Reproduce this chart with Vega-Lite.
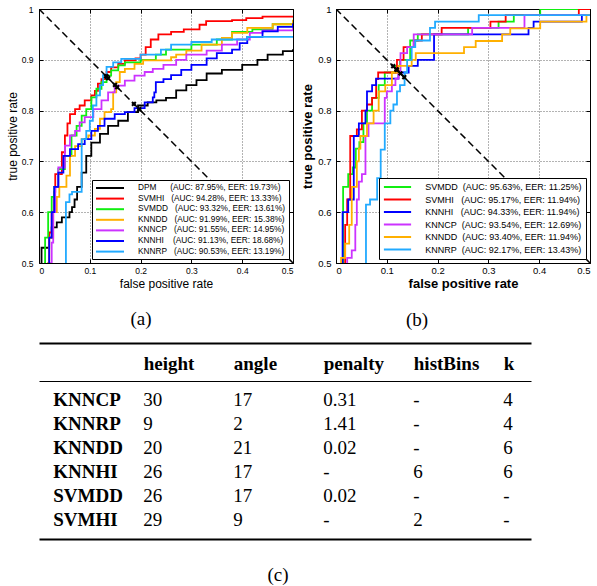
{
"$schema": "https://vega.github.io/schema/vega-lite/v6.json",
"padding": {"left": 5, "top": 3, "right": 0, "bottom": 0},
"background": "white",
"config": {
  "view": {"stroke": "black", "strokeWidth": 1},
  "font": "Liberation Sans",
  "axis": {"labelColor": "black", "titleColor": "black"},
  "title": {"font": "Liberation Serif", "fontSize": 19, "fontWeight": "normal", "color": "black"}
},
"datasets": {
"rocA": [
{"method":"DPM","fpr":0.005,"tpr":0.5},{"method":"DPM","fpr":0.005,"tpr":0.53},{"method":"DPM","fpr":0.02,"tpr":0.55},{"method":"DPM","fpr":0.025,"tpr":0.57},{"method":"DPM","fpr":0.035,"tpr":0.58},{"method":"DPM","fpr":0.045,"tpr":0.59},{"method":"DPM","fpr":0.06,"tpr":0.6},{"method":"DPM","fpr":0.065,"tpr":0.61},{"method":"DPM","fpr":0.07,"tpr":0.625},{"method":"DPM","fpr":0.075,"tpr":0.65},{"method":"DPM","fpr":0.084,"tpr":0.678},{"method":"DPM","fpr":0.093,"tpr":0.711},{"method":"DPM","fpr":0.103,"tpr":0.737},{"method":"DPM","fpr":0.12,"tpr":0.754},{"method":"DPM","fpr":0.136,"tpr":0.77},{"method":"DPM","fpr":0.156,"tpr":0.78},{"method":"DPM","fpr":0.175,"tpr":0.797},{"method":"DPM","fpr":0.195,"tpr":0.81},{"method":"DPM","fpr":0.214,"tpr":0.816},{"method":"DPM","fpr":0.231,"tpr":0.82},{"method":"DPM","fpr":0.25,"tpr":0.825},{"method":"DPM","fpr":0.27,"tpr":0.84},{"method":"DPM","fpr":0.29,"tpr":0.85},{"method":"DPM","fpr":0.31,"tpr":0.86},{"method":"DPM","fpr":0.33,"tpr":0.873},{"method":"DPM","fpr":0.36,"tpr":0.88},{"method":"DPM","fpr":0.4,"tpr":0.89},{"method":"DPM","fpr":0.43,"tpr":0.9},{"method":"DPM","fpr":0.45,"tpr":0.91},{"method":"DPM","fpr":0.48,"tpr":0.917},{"method":"DPM","fpr":0.5,"tpr":0.921},
{"method":"SVMHI","fpr":0.017,"tpr":0.5},{"method":"SVMHI","fpr":0.02,"tpr":0.56},{"method":"SVMHI","fpr":0.025,"tpr":0.6},{"method":"SVMHI","fpr":0.03,"tpr":0.64},{"method":"SVMHI","fpr":0.032,"tpr":0.675},{"method":"SVMHI","fpr":0.045,"tpr":0.718},{"method":"SVMHI","fpr":0.051,"tpr":0.751},{"method":"SVMHI","fpr":0.056,"tpr":0.775},{"method":"SVMHI","fpr":0.061,"tpr":0.793},{"method":"SVMHI","fpr":0.071,"tpr":0.803},{"method":"SVMHI","fpr":0.08,"tpr":0.81},{"method":"SVMHI","fpr":0.09,"tpr":0.82},{"method":"SVMHI","fpr":0.103,"tpr":0.83},{"method":"SVMHI","fpr":0.11,"tpr":0.839},{"method":"SVMHI","fpr":0.116,"tpr":0.853},{"method":"SVMHI","fpr":0.123,"tpr":0.862},{"method":"SVMHI","fpr":0.133,"tpr":0.876},{"method":"SVMHI","fpr":0.142,"tpr":0.885},{"method":"SVMHI","fpr":0.156,"tpr":0.892},{"method":"SVMHI","fpr":0.169,"tpr":0.899},{"method":"SVMHI","fpr":0.19,"tpr":0.903},{"method":"SVMHI","fpr":0.2,"tpr":0.91},{"method":"SVMHI","fpr":0.21,"tpr":0.925},{"method":"SVMHI","fpr":0.22,"tpr":0.94},{"method":"SVMHI","fpr":0.235,"tpr":0.95},{"method":"SVMHI","fpr":0.26,"tpr":0.955},{"method":"SVMHI","fpr":0.285,"tpr":0.96},{"method":"SVMHI","fpr":0.316,"tpr":0.969},{"method":"SVMHI","fpr":0.329,"tpr":0.976},{"method":"SVMHI","fpr":0.38,"tpr":0.978},{"method":"SVMHI","fpr":0.408,"tpr":0.982},{"method":"SVMHI","fpr":0.44,"tpr":0.985},{"method":"SVMHI","fpr":0.5,"tpr":0.986},
{"method":"SVMDD","fpr":0.01,"tpr":0.5},{"method":"SVMDD","fpr":0.012,"tpr":0.55},{"method":"SVMDD","fpr":0.018,"tpr":0.6},{"method":"SVMDD","fpr":0.025,"tpr":0.63},{"method":"SVMDD","fpr":0.03,"tpr":0.65},{"method":"SVMDD","fpr":0.038,"tpr":0.685},{"method":"SVMDD","fpr":0.051,"tpr":0.711},{"method":"SVMDD","fpr":0.064,"tpr":0.751},{"method":"SVMDD","fpr":0.074,"tpr":0.77},{"method":"SVMDD","fpr":0.084,"tpr":0.79},{"method":"SVMDD","fpr":0.093,"tpr":0.803},{"method":"SVMDD","fpr":0.103,"tpr":0.826},{"method":"SVMDD","fpr":0.113,"tpr":0.843},{"method":"SVMDD","fpr":0.123,"tpr":0.856},{"method":"SVMDD","fpr":0.133,"tpr":0.869},{"method":"SVMDD","fpr":0.142,"tpr":0.879},{"method":"SVMDD","fpr":0.156,"tpr":0.889},{"method":"SVMDD","fpr":0.169,"tpr":0.895},{"method":"SVMDD","fpr":0.2,"tpr":0.9},{"method":"SVMDD","fpr":0.23,"tpr":0.91},{"method":"SVMDD","fpr":0.25,"tpr":0.92},{"method":"SVMDD","fpr":0.3,"tpr":0.93},{"method":"SVMDD","fpr":0.35,"tpr":0.94},{"method":"SVMDD","fpr":0.38,"tpr":0.955},{"method":"SVMDD","fpr":0.42,"tpr":0.96},{"method":"SVMDD","fpr":0.46,"tpr":0.97},{"method":"SVMDD","fpr":0.5,"tpr":0.978},
{"method":"KNNDD","fpr":0.017,"tpr":0.5},{"method":"KNNDD","fpr":0.02,"tpr":0.55},{"method":"KNNDD","fpr":0.028,"tpr":0.6},{"method":"KNNDD","fpr":0.035,"tpr":0.63},{"method":"KNNDD","fpr":0.04,"tpr":0.65},{"method":"KNNDD","fpr":0.054,"tpr":0.672},{"method":"KNNDD","fpr":0.061,"tpr":0.711},{"method":"KNNDD","fpr":0.071,"tpr":0.73},{"method":"KNNDD","fpr":0.084,"tpr":0.744},{"method":"KNNDD","fpr":0.097,"tpr":0.751},{"method":"KNNDD","fpr":0.11,"tpr":0.764},{"method":"KNNDD","fpr":0.12,"tpr":0.784},{"method":"KNNDD","fpr":0.129,"tpr":0.797},{"method":"KNNDD","fpr":0.142,"tpr":0.803},{"method":"KNNDD","fpr":0.146,"tpr":0.836},{"method":"KNNDD","fpr":0.152,"tpr":0.856},{"method":"KNNDD","fpr":0.159,"tpr":0.876},{"method":"KNNDD","fpr":0.169,"tpr":0.882},{"method":"KNNDD","fpr":0.188,"tpr":0.892},{"method":"KNNDD","fpr":0.205,"tpr":0.899},{"method":"KNNDD","fpr":0.26,"tpr":0.905},{"method":"KNNDD","fpr":0.27,"tpr":0.91},{"method":"KNNDD","fpr":0.29,"tpr":0.918},{"method":"KNNDD","fpr":0.32,"tpr":0.93},{"method":"KNNDD","fpr":0.36,"tpr":0.943},{"method":"KNNDD","fpr":0.38,"tpr":0.953},{"method":"KNNDD","fpr":0.41,"tpr":0.963},{"method":"KNNDD","fpr":0.46,"tpr":0.97},{"method":"KNNDD","fpr":0.5,"tpr":0.979},
{"method":"KNNCP","fpr":0.022,"tpr":0.5},{"method":"KNNCP","fpr":0.025,"tpr":0.54},{"method":"KNNCP","fpr":0.028,"tpr":0.6},{"method":"KNNCP","fpr":0.032,"tpr":0.65},{"method":"KNNCP","fpr":0.038,"tpr":0.688},{"method":"KNNCP","fpr":0.051,"tpr":0.731},{"method":"KNNCP","fpr":0.061,"tpr":0.751},{"method":"KNNCP","fpr":0.071,"tpr":0.76},{"method":"KNNCP","fpr":0.08,"tpr":0.777},{"method":"KNNCP","fpr":0.09,"tpr":0.787},{"method":"KNNCP","fpr":0.107,"tpr":0.803},{"method":"KNNCP","fpr":0.123,"tpr":0.82},{"method":"KNNCP","fpr":0.136,"tpr":0.836},{"method":"KNNCP","fpr":0.149,"tpr":0.849},{"method":"KNNCP","fpr":0.169,"tpr":0.859},{"method":"KNNCP","fpr":0.188,"tpr":0.869},{"method":"KNNCP","fpr":0.208,"tpr":0.876},{"method":"KNNCP","fpr":0.224,"tpr":0.882},{"method":"KNNCP","fpr":0.245,"tpr":0.89},{"method":"KNNCP","fpr":0.27,"tpr":0.9},{"method":"KNNCP","fpr":0.29,"tpr":0.91},{"method":"KNNCP","fpr":0.33,"tpr":0.918},{"method":"KNNCP","fpr":0.36,"tpr":0.93},{"method":"KNNCP","fpr":0.39,"tpr":0.94},{"method":"KNNCP","fpr":0.415,"tpr":0.953},{"method":"KNNCP","fpr":0.44,"tpr":0.958},{"method":"KNNCP","fpr":0.5,"tpr":0.964},
{"method":"KNNHI","fpr":0.018,"tpr":0.5},{"method":"KNNHI","fpr":0.02,"tpr":0.55},{"method":"KNNHI","fpr":0.025,"tpr":0.6},{"method":"KNNHI","fpr":0.03,"tpr":0.65},{"method":"KNNHI","fpr":0.038,"tpr":0.678},{"method":"KNNHI","fpr":0.048,"tpr":0.711},{"method":"KNNHI","fpr":0.061,"tpr":0.724},{"method":"KNNHI","fpr":0.077,"tpr":0.734},{"method":"KNNHI","fpr":0.09,"tpr":0.744},{"method":"KNNHI","fpr":0.103,"tpr":0.76},{"method":"KNNHI","fpr":0.116,"tpr":0.77},{"method":"KNNHI","fpr":0.129,"tpr":0.784},{"method":"KNNHI","fpr":0.149,"tpr":0.793},{"method":"KNNHI","fpr":0.169,"tpr":0.797},{"method":"KNNHI","fpr":0.188,"tpr":0.805},{"method":"KNNHI","fpr":0.208,"tpr":0.816},{"method":"KNNHI","fpr":0.224,"tpr":0.826},{"method":"KNNHI","fpr":0.227,"tpr":0.836},{"method":"KNNHI","fpr":0.23,"tpr":0.856},{"method":"KNNHI","fpr":0.245,"tpr":0.862},{"method":"KNNHI","fpr":0.26,"tpr":0.87},{"method":"KNNHI","fpr":0.28,"tpr":0.88},{"method":"KNNHI","fpr":0.3,"tpr":0.89},{"method":"KNNHI","fpr":0.33,"tpr":0.903},{"method":"KNNHI","fpr":0.35,"tpr":0.913},{"method":"KNNHI","fpr":0.38,"tpr":0.92},{"method":"KNNHI","fpr":0.395,"tpr":0.933},{"method":"KNNHI","fpr":0.41,"tpr":0.945},{"method":"KNNHI","fpr":0.44,"tpr":0.956},{"method":"KNNHI","fpr":0.47,"tpr":0.965},{"method":"KNNHI","fpr":0.5,"tpr":0.972},
{"method":"KNNRP","fpr":0.053,"tpr":0.5},{"method":"KNNRP","fpr":0.053,"tpr":0.62},{"method":"KNNRP","fpr":0.06,"tpr":0.635},{"method":"KNNRP","fpr":0.065,"tpr":0.64},{"method":"KNNRP","fpr":0.084,"tpr":0.672},{"method":"KNNRP","fpr":0.084,"tpr":0.744},{"method":"KNNRP","fpr":0.093,"tpr":0.76},{"method":"KNNRP","fpr":0.1,"tpr":0.78},{"method":"KNNRP","fpr":0.106,"tpr":0.81},{"method":"KNNRP","fpr":0.113,"tpr":0.83},{"method":"KNNRP","fpr":0.12,"tpr":0.85},{"method":"KNNRP","fpr":0.126,"tpr":0.87},{"method":"KNNRP","fpr":0.133,"tpr":0.886},{"method":"KNNRP","fpr":0.146,"tpr":0.895},{"method":"KNNRP","fpr":0.162,"tpr":0.902},{"method":"KNNRP","fpr":0.2,"tpr":0.91},{"method":"KNNRP","fpr":0.24,"tpr":0.92},{"method":"KNNRP","fpr":0.26,"tpr":0.93},{"method":"KNNRP","fpr":0.3,"tpr":0.935},{"method":"KNNRP","fpr":0.34,"tpr":0.94},{"method":"KNNRP","fpr":0.41,"tpr":0.945},{"method":"KNNRP","fpr":0.5,"tpr":0.945}
],
"rocB": [
{"method":"SVMDD","fpr":0.014,"tpr":0.5},{"method":"SVMDD","fpr":0.014,"tpr":0.65},{"method":"SVMDD","fpr":0.024,"tpr":0.675},{"method":"SVMDD","fpr":0.033,"tpr":0.688},{"method":"SVMDD","fpr":0.039,"tpr":0.725},{"method":"SVMDD","fpr":0.046,"tpr":0.738},{"method":"SVMDD","fpr":0.054,"tpr":0.775},{"method":"SVMDD","fpr":0.061,"tpr":0.8},{"method":"SVMDD","fpr":0.071,"tpr":0.825},{"method":"SVMDD","fpr":0.084,"tpr":0.85},{"method":"SVMDD","fpr":0.096,"tpr":0.875},{"method":"SVMDD","fpr":0.117,"tpr":0.888},{"method":"SVMDD","fpr":0.126,"tpr":0.9},{"method":"SVMDD","fpr":0.146,"tpr":0.938},{"method":"SVMDD","fpr":0.161,"tpr":0.95},{"method":"SVMDD","fpr":0.26,"tpr":0.963},{"method":"SVMDD","fpr":0.32,"tpr":0.975},{"method":"SVMDD","fpr":0.35,"tpr":0.988},{"method":"SVMDD","fpr":0.402,"tpr":1.0},{"method":"SVMDD","fpr":0.5,"tpr":1.0},
{"method":"SVMHI","fpr":0.018,"tpr":0.5},{"method":"SVMHI","fpr":0.018,"tpr":0.575},{"method":"SVMHI","fpr":0.022,"tpr":0.625},{"method":"SVMHI","fpr":0.028,"tpr":0.75},{"method":"SVMHI","fpr":0.041,"tpr":0.763},{"method":"SVMHI","fpr":0.051,"tpr":0.8},{"method":"SVMHI","fpr":0.061,"tpr":0.812},{"method":"SVMHI","fpr":0.071,"tpr":0.825},{"method":"SVMHI","fpr":0.079,"tpr":0.862},{"method":"SVMHI","fpr":0.083,"tpr":0.875},{"method":"SVMHI","fpr":0.12,"tpr":0.9},{"method":"SVMHI","fpr":0.133,"tpr":0.925},{"method":"SVMHI","fpr":0.153,"tpr":0.938},{"method":"SVMHI","fpr":0.169,"tpr":0.95},{"method":"SVMHI","fpr":0.208,"tpr":0.963},{"method":"SVMHI","fpr":0.304,"tpr":0.975},{"method":"SVMHI","fpr":0.334,"tpr":0.988},{"method":"SVMHI","fpr":0.478,"tpr":1.0},{"method":"SVMHI","fpr":0.5,"tpr":1.0},
{"method":"KNNHI","fpr":0.013,"tpr":0.5},{"method":"KNNHI","fpr":0.013,"tpr":0.6},{"method":"KNNHI","fpr":0.024,"tpr":0.625},{"method":"KNNHI","fpr":0.035,"tpr":0.75},{"method":"KNNHI","fpr":0.045,"tpr":0.775},{"method":"KNNHI","fpr":0.058,"tpr":0.8},{"method":"KNNHI","fpr":0.061,"tpr":0.838},{"method":"KNNHI","fpr":0.071,"tpr":0.85},{"method":"KNNHI","fpr":0.079,"tpr":0.863},{"method":"KNNHI","fpr":0.123,"tpr":0.875},{"method":"KNNHI","fpr":0.143,"tpr":0.888},{"method":"KNNHI","fpr":0.161,"tpr":0.9},{"method":"KNNHI","fpr":0.193,"tpr":0.95},{"method":"KNNHI","fpr":0.379,"tpr":0.963},{"method":"KNNHI","fpr":0.389,"tpr":0.975},{"method":"KNNHI","fpr":0.484,"tpr":0.988},{"method":"KNNHI","fpr":0.5,"tpr":0.988},
{"method":"KNNCP","fpr":0.022,"tpr":0.5},{"method":"KNNCP","fpr":0.022,"tpr":0.51},{"method":"KNNCP","fpr":0.031,"tpr":0.525},{"method":"KNNCP","fpr":0.038,"tpr":0.575},{"method":"KNNCP","fpr":0.041,"tpr":0.625},{"method":"KNNCP","fpr":0.045,"tpr":0.66},{"method":"KNNCP","fpr":0.051,"tpr":0.675},{"method":"KNNCP","fpr":0.058,"tpr":0.75},{"method":"KNNCP","fpr":0.064,"tpr":0.775},{"method":"KNNCP","fpr":0.096,"tpr":0.825},{"method":"KNNCP","fpr":0.1,"tpr":0.838},{"method":"KNNCP","fpr":0.11,"tpr":0.85},{"method":"KNNCP","fpr":0.117,"tpr":0.863},{"method":"KNNCP","fpr":0.123,"tpr":0.878},{"method":"KNNCP","fpr":0.127,"tpr":0.913},{"method":"KNNCP","fpr":0.14,"tpr":0.925},{"method":"KNNCP","fpr":0.153,"tpr":0.95},{"method":"KNNCP","fpr":0.268,"tpr":0.963},{"method":"KNNCP","fpr":0.371,"tpr":0.988},{"method":"KNNCP","fpr":0.5,"tpr":0.988},
{"method":"KNNDD","fpr":0.01,"tpr":0.5},{"method":"KNNDD","fpr":0.01,"tpr":0.51},{"method":"KNNDD","fpr":0.018,"tpr":0.538},{"method":"KNNDD","fpr":0.026,"tpr":0.575},{"method":"KNNDD","fpr":0.031,"tpr":0.65},{"method":"KNNDD","fpr":0.041,"tpr":0.7},{"method":"KNNDD","fpr":0.045,"tpr":0.725},{"method":"KNNDD","fpr":0.048,"tpr":0.75},{"method":"KNNDD","fpr":0.061,"tpr":0.775},{"method":"KNNDD","fpr":0.074,"tpr":0.8},{"method":"KNNDD","fpr":0.084,"tpr":0.838},{"method":"KNNDD","fpr":0.097,"tpr":0.85},{"method":"KNNDD","fpr":0.11,"tpr":0.875},{"method":"KNNDD","fpr":0.123,"tpr":0.888},{"method":"KNNDD","fpr":0.149,"tpr":0.9},{"method":"KNNDD","fpr":0.157,"tpr":0.913},{"method":"KNNDD","fpr":0.252,"tpr":0.925},{"method":"KNNDD","fpr":0.275,"tpr":0.937},{"method":"KNNDD","fpr":0.327,"tpr":0.95},{"method":"KNNDD","fpr":0.343,"tpr":0.962},{"method":"KNNDD","fpr":0.402,"tpr":0.975},{"method":"KNNDD","fpr":0.493,"tpr":0.988},{"method":"KNNDD","fpr":0.5,"tpr":0.988},
{"method":"KNNRP","fpr":0.059,"tpr":0.5},{"method":"KNNRP","fpr":0.059,"tpr":0.615},{"method":"KNNRP","fpr":0.067,"tpr":0.625},{"method":"KNNRP","fpr":0.081,"tpr":0.667},{"method":"KNNRP","fpr":0.088,"tpr":0.723},{"method":"KNNRP","fpr":0.096,"tpr":0.775},{"method":"KNNRP","fpr":0.107,"tpr":0.8},{"method":"KNNRP","fpr":0.113,"tpr":0.812},{"method":"KNNRP","fpr":0.12,"tpr":0.838},{"method":"KNNRP","fpr":0.126,"tpr":0.85},{"method":"KNNRP","fpr":0.135,"tpr":0.875},{"method":"KNNRP","fpr":0.14,"tpr":0.9},{"method":"KNNRP","fpr":0.149,"tpr":0.925},{"method":"KNNRP","fpr":0.156,"tpr":0.938},{"method":"KNNRP","fpr":0.185,"tpr":0.963},{"method":"KNNRP","fpr":0.195,"tpr":0.975},{"method":"KNNRP","fpr":0.281,"tpr":0.988},{"method":"KNNRP","fpr":0.5,"tpr":0.988}
],
"diag": [{"fpr":0,"tpr":1},{"fpr":0.5,"tpr":0.5}],
"eerA": [{"method":"DPM","fpr":0.1973,"tpr":0.8027},{"method":"SVMHI","fpr":0.1333,"tpr":0.8667},{"method":"SVMDD","fpr":0.1361,"tpr":0.8639},{"method":"KNNDD","fpr":0.1538,"tpr":0.8462},{"method":"KNNCP","fpr":0.1495,"tpr":0.8505},{"method":"KNNHI","fpr":0.1868,"tpr":0.8132},{"method":"KNNRP","fpr":0.1319,"tpr":0.8681}],
"eerB": [{"method":"SVMDD","fpr":0.1125,"tpr":0.8875},{"method":"SVMHI","fpr":0.1194,"tpr":0.8806},{"method":"KNNHI","fpr":0.1194,"tpr":0.8806},{"method":"KNNCP","fpr":0.1269,"tpr":0.8731},{"method":"KNNDD","fpr":0.1194,"tpr":0.8806},{"method":"KNNRP","fpr":0.1343,"tpr":0.8657}],
"table": [
{"method":"KNNCP","height":"30","angle":"17","penalty":"0.31","histBins":"-","k":"4"},
{"method":"KNNRP","height":"9","angle":"2","penalty":"1.41","histBins":"-","k":"4"},
{"method":"KNNDD","height":"20","angle":"21","penalty":"0.02","histBins":"-","k":"6"},
{"method":"KNNHI","height":"26","angle":"17","penalty":"-","histBins":"6","k":"6"},
{"method":"SVMDD","height":"26","angle":"17","penalty":"0.02","histBins":"-","k":"-"},
{"method":"SVMHI","height":"29","angle":"9","penalty":"-","histBins":"2","k":"-"}
]
},
"bounds": "full",
"spacing": 13,
"vconcat": [
{
"bounds": "flush",
"spacing": 43,
"resolve": {"scale": {"color": "independent"}, "legend": {"color": "independent"}},
"hconcat": [
{
"width": 254, "height": 254,
"title": {"text": "(a)", "orient": "bottom", "offset": 20, "dx": -25, "anchor": "middle"},
"resolve": {"axis": {"x": "independent", "y": "independent"}},
"layer": [
{
"data": {"name": "rocA"},
"mark": {"type": "line", "interpolate": "step-after", "strokeWidth": 1.8, "clip": true},
"encoding": {
"x": {"field": "fpr", "type": "quantitative", "scale": {"domain": [0, 0.5], "nice": false, "zero": false},
  "axis": {"orient": "bottom", "title": "false positive rate", "values": [0, 0.1, 0.2, 0.3, 0.4, 0.5], "format": ".1~f", "labelFont": "Liberation Sans Narrow, Liberation Sans", "labelFontSize": 8.5, "titleFont": "Liberation Sans", "titleFontSize": 12, "titleFontWeight": "normal", "titlePadding": 4, "grid": true, "gridDash": [1, 2], "gridColor": "black", "gridOpacity": 0.6, "domain": false, "tickSize": -4, "tickColor": "black", "labelPadding": 7}},
"y": {"field": "tpr", "type": "quantitative", "scale": {"domain": [0.5, 1], "nice": false, "zero": false},
  "axis": {"orient": "left", "title": "true positive rate", "values": [0.5, 0.6, 0.7, 0.8, 0.9, 1], "format": ".1~f", "labelFont": "Liberation Sans Narrow, Liberation Sans", "labelFontSize": 8.5, "titleFont": "Liberation Sans", "titleFontSize": 12, "titleFontWeight": "normal", "titlePadding": 2, "grid": true, "gridDash": [1, 2], "gridColor": "black", "gridOpacity": 0.6, "domain": false, "tickSize": -4, "tickColor": "black", "labelPadding": 10}},
"color": {"field": "method", "type": "nominal",
  "scale": {"domain": ["DPM", "SVMHI", "SVMDD", "KNNDD", "KNNCP", "KNNHI", "KNNRP"], "range": ["#000000", "#ff0000", "#11ee11", "#ffb000", "#cc33ff", "#0000ff", "#22aaff"]},
  "legend": {"title": null, "orient": "bottom-right", "offset": 4, "fillColor": "white", "strokeColor": "black", "padding": 3, "rowPadding": 1.6, "symbolType": "M-3.5,0H3.5", "symbolSize": 64, "symbolOffset": 10, "symbolStrokeWidth": 2, "labelFont": "Liberation Sans", "labelFontSize": 8.3, "labelColor": "black", "labelLimit": 400, "labelOffset": 23,
   "labelExpr": "datum.label == 'DPM' ? 'DPM\u00a0\u00a0\u00a0\u00a0\u00a0\u00a0(AUC: 87.95%, EER: 19.73%)' : datum.label == 'SVMHI' ? 'SVMHI\u00a0\u00a0\u00a0(AUC: 94.28%, EER: 13.33%)' : datum.label == 'SVMDD' ? 'SVMDD\u00a0\u00a0\u00a0(AUC: 93.32%, EER: 13.61%)\u00a0\u00a0\u00a0\u00a0\u00a0\u00a0\u00a0\u00a0\u00a0\u00a0\u00a0\u00a0\u00a0' : datum.label == 'KNNDD' ? 'KNNDD\u00a0\u00a0\u00a0(AUC: 91.99%, EER: 15.38%)' : datum.label == 'KNNCP' ? 'KNNCP\u00a0\u00a0\u00a0(AUC: 91.55%, EER: 14.95%)' : datum.label == 'KNNHI' ? 'KNNHI\u00a0\u00a0\u00a0\u00a0(AUC: 91.13%, EER: 18.68%)' : 'KNNRP\u00a0\u00a0\u00a0(AUC: 90.53%, EER: 13.19%)'"}},
"order": {"value": null}
}
},
{"data": {"name": "diag"}, "mark": {"type": "line", "color": "black", "strokeDash": [7, 4], "strokeWidth": 1.5, "clip": true},
 "encoding": {
  "x": {"field": "fpr", "type": "quantitative", "axis": {"orient": "top", "values": [0, 0.1, 0.2, 0.3, 0.4, 0.5], "labels": false, "grid": false, "domain": false, "tickSize": -4, "tickColor": "black", "title": null}},
  "y": {"field": "tpr", "type": "quantitative", "axis": {"orient": "right", "values": [0.5, 0.6, 0.7, 0.8, 0.9, 1], "labels": false, "grid": false, "domain": false, "tickSize": -4, "tickColor": "black", "title": null}}}},
{"data": {"name": "eerA"}, "mark": {"type": "point", "shape": "cross", "angle": 45, "filled": true, "color": "black", "size": 28, "opacity": 1},
 "encoding": {"x": {"field": "fpr", "type": "quantitative", "axis": null}, "y": {"field": "tpr", "type": "quantitative", "axis": null}}}
]
},
{
"width": 254, "height": 254,
"title": {"text": "(b)", "orient": "bottom", "offset": 20, "dx": -46, "anchor": "middle"},
"resolve": {"axis": {"x": "independent", "y": "independent"}},
"layer": [
{
"data": {"name": "rocB"},
"mark": {"type": "line", "interpolate": "step-after", "strokeWidth": 1.8, "clip": true},
"encoding": {
"x": {"field": "fpr", "type": "quantitative", "scale": {"domain": [0, 0.5], "nice": false, "zero": false},
  "axis": {"orient": "bottom", "title": "false positive rate", "values": [0, 0.1, 0.2, 0.3, 0.4, 0.5], "format": ".1~f", "labelFont": "Liberation Sans", "labelFontSize": 9.5, "titleFont": "Liberation Sans", "titleFontSize": 13, "titleFontWeight": "bold", "titlePadding": 3, "grid": true, "gridDash": [1, 2], "gridColor": "black", "gridOpacity": 0.6, "domain": false, "tickSize": -4, "tickColor": "black", "labelPadding": 6}},
"y": {"field": "tpr", "type": "quantitative", "scale": {"domain": [0.5, 1], "nice": false, "zero": false},
  "axis": {"orient": "left", "title": "true positive rate", "values": [0.5, 0.6, 0.7, 0.8, 0.9, 1], "format": ".1~f", "labelFont": "Liberation Sans", "labelFontSize": 9.5, "titleFont": "Liberation Sans", "titleFontSize": 13, "titleFontWeight": "bold", "titlePadding": 3, "grid": true, "gridDash": [1, 2], "gridColor": "black", "gridOpacity": 0.6, "domain": false, "tickSize": -4, "tickColor": "black", "labelPadding": 9}},
"color": {"field": "method", "type": "nominal",
  "scale": {"domain": ["SVMDD", "SVMHI", "KNNHI", "KNNCP", "KNNDD", "KNNRP"], "range": ["#11ee11", "#ff0000", "#0000ff", "#cc33ff", "#ffb000", "#22aaff"]},
  "legend": {"title": null, "orient": "bottom-right", "offset": 4, "fillColor": "white", "strokeColor": "black", "padding": 4, "rowPadding": 2.5, "symbolType": "M-3.4,0H3.4", "symbolSize": 64, "symbolOffset": 9.5, "symbolStrokeWidth": 2, "labelFont": "Liberation Sans", "labelFontSize": 9, "labelColor": "black", "labelLimit": 400, "labelOffset": 22.7,
   "labelExpr": "datum.label == 'SVMDD' ? 'SVMDD\u00a0\u00a0(AUC: 95.63%, EER: 11.25%)' : datum.label == 'SVMHI' ? 'SVMHI\u00a0\u00a0\u00a0(AUC: 95.17%, EER: 11.94%)' : datum.label == 'KNNHI' ? 'KNNHI\u00a0\u00a0\u00a0(AUC: 94.33%, EER: 11.94%)' : datum.label == 'KNNCP' ? 'KNNCP\u00a0\u00a0(AUC: 93.54%, EER: 12.69%)' : datum.label == 'KNNDD' ? 'KNNDD\u00a0\u00a0(AUC: 93.40%, EER: 11.94%)' : 'KNNRP\u00a0\u00a0(AUC: 92.17%, EER: 13.43%)'"}},
"order": {"value": null}
}
},
{"data": {"name": "diag"}, "mark": {"type": "line", "color": "black", "strokeDash": [7, 4], "strokeWidth": 1.5, "clip": true},
 "encoding": {
  "x": {"field": "fpr", "type": "quantitative", "axis": {"orient": "top", "values": [0, 0.1, 0.2, 0.3, 0.4, 0.5], "labels": false, "grid": false, "domain": false, "tickSize": -4, "tickColor": "black", "title": null}},
  "y": {"field": "tpr", "type": "quantitative", "axis": {"orient": "right", "values": [0.5, 0.6, 0.7, 0.8, 0.9, 1], "labels": false, "grid": false, "domain": false, "tickSize": -4, "tickColor": "black", "title": null}}}},
{"data": {"name": "eerB"}, "mark": {"type": "point", "shape": "cross", "angle": 45, "filled": true, "color": "black", "size": 28, "opacity": 1},
 "encoding": {"x": {"field": "fpr", "type": "quantitative", "axis": null}, "y": {"field": "tpr", "type": "quantitative", "axis": null}}}
]
}
]
},
{
"width": 492, "height": 158,
"view": {"stroke": null},
"title": {"text": "(c)", "orient": "bottom", "offset": 27, "dx": -7, "anchor": "middle"},
"data": {"name": "table"},
"transform": [{"fold": ["method", "height", "angle", "penalty", "histBins", "k"], "as": ["col", "val"]}],
"layer": [
{"transform": [{"filter": "datum.col == 'method'"}],
 "mark": {"type": "text", "align": "left", "baseline": "middle", "font": "Liberation Serif", "fontSize": 19, "fontWeight": "bold", "color": "black"},
 "encoding": {
  "x": {"field": "col", "type": "nominal", "scale": {"type": "point", "domain": ["method", "height", "angle", "penalty", "histBins", "k"], "padding": 0.233, "align": 0.34},
    "axis": {"orient": "top", "domain": true, "domainWidth": 1.2, "domainColor": "black", "labels": true, "labelExpr": "datum.value == 'method' ? '' : datum.value", "labelFont": "Liberation Serif", "labelFontSize": 19, "labelFontWeight": "bold", "labelAlign": "left", "labelBaseline": "middle", "labelPadding": 18, "labelAngle": 0, "labelOverlap": false, "ticks": false, "grid": false, "title": null}},
  "y": {"field": "method", "type": "nominal", "scale": {"type": "point", "domain": ["KNNCP", "KNNRP", "KNNDD", "KNNHI", "SVMDD", "SVMHI"], "padding": 0.79, "align": 0.5},
    "axis": {"labels": false, "ticks": false, "domain": false, "grid": false, "title": null, "minExtent": 33, "maxExtent": 33}},
  "text": {"field": "val"}}},
{"transform": [{"filter": "datum.col != 'method'"}],
 "mark": {"type": "text", "align": "left", "baseline": "middle", "font": "Liberation Serif", "fontSize": 19, "fontWeight": "normal", "color": "black"},
 "encoding": {
  "x": {"field": "col", "type": "nominal", "scale": {"type": "point", "domain": ["method", "height", "angle", "penalty", "histBins", "k"], "padding": 0.233, "align": 0.34},
    "axis": {"orient": "bottom", "domain": true, "domainWidth": 2, "domainColor": "black", "labels": false, "ticks": false, "grid": false, "title": null}},
  "y": {"field": "method", "type": "nominal", "scale": {"type": "point", "domain": ["KNNCP", "KNNRP", "KNNDD", "KNNHI", "SVMDD", "SVMHI"], "padding": 0.79, "align": 0.5},
    "axis": {"labels": false, "ticks": false, "domain": false, "grid": false, "title": null, "minExtent": 33, "maxExtent": 33}},
  "text": {"field": "val"}}},
{"transform": [{"filter": "datum.col == 'method'"}],
 "mark": {"type": "text", "opacity": 0},
 "encoding": {
  "x": {"field": "col", "type": "nominal", "scale": {"type": "point", "domain": ["method", "height", "angle", "penalty", "histBins", "k"], "padding": 0.233, "align": 0.34},
    "axis": {"orient": "top", "offset": 38, "domain": true, "domainWidth": 2, "domainColor": "black", "labels": false, "ticks": false, "grid": false, "title": null}},
  "y": {"field": "method", "type": "nominal", "scale": {"type": "point", "domain": ["KNNCP", "KNNRP", "KNNDD", "KNNHI", "SVMDD", "SVMHI"], "padding": 0.79, "align": 0.5},
    "axis": {"labels": false, "ticks": false, "domain": false, "grid": false, "title": null, "minExtent": 33, "maxExtent": 33}},
  "text": {"field": "val"}}}
],
"resolve": {"axis": {"x": "independent"}}
}
]
}
